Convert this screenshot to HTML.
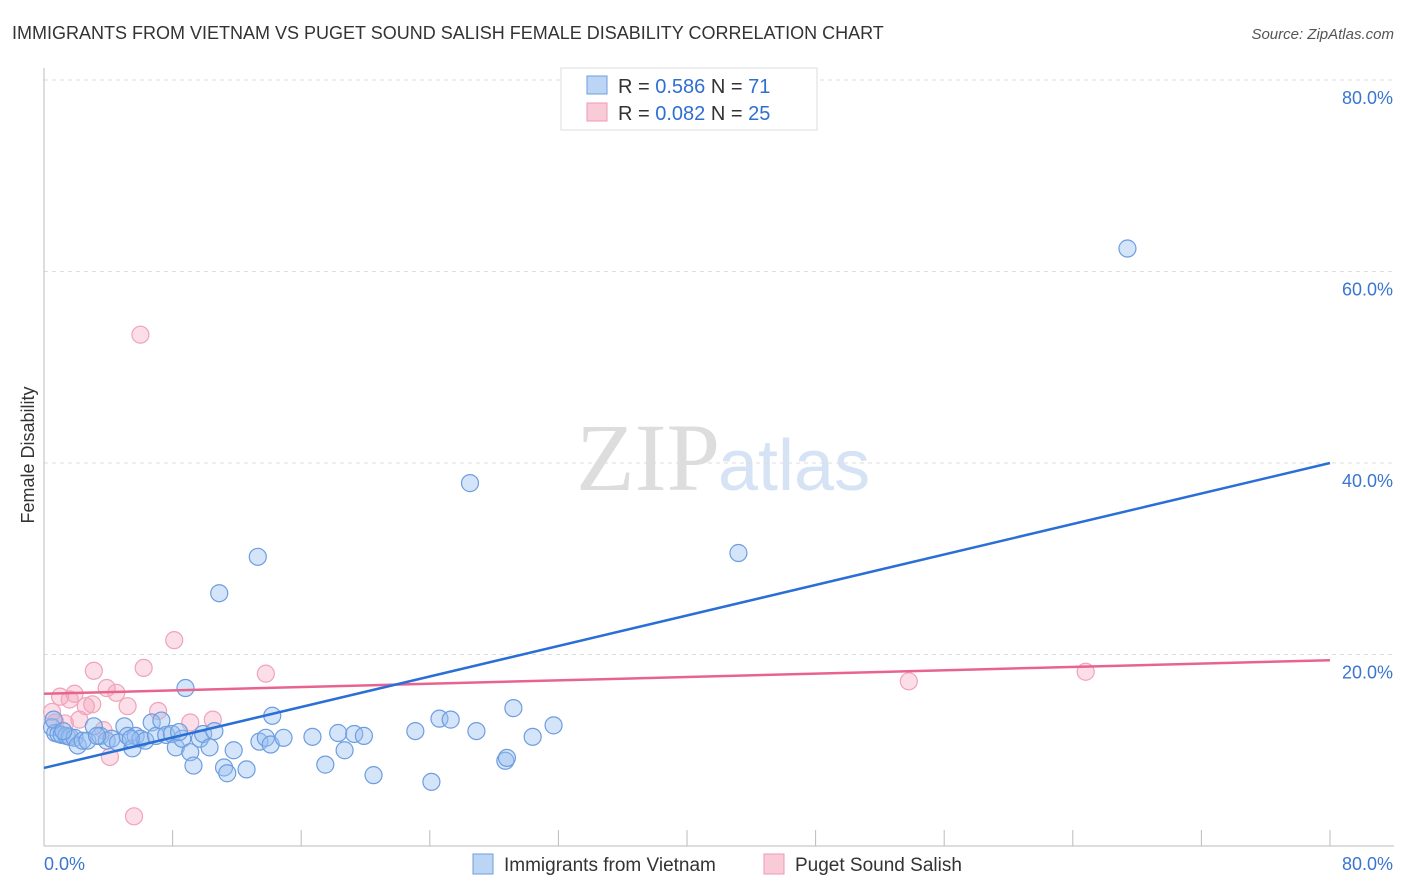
<!DOCTYPE html>
<html><head><meta charset="utf-8"><style>
body{margin:0;background:#fff;font-family:"Liberation Sans",sans-serif}
#wrap{position:relative;width:1406px;height:892px;overflow:hidden}
</style></head><body>
<div id="wrap">
<svg id="svg" width="1406" height="892">
<text x="12" y="39" font-size="18" fill="#333">IMMIGRANTS FROM VIETNAM VS PUGET SOUND SALISH FEMALE DISABILITY CORRELATION CHART</text>
<text x="1394" y="39" font-size="15" fill="#555" font-style="italic" text-anchor="end">Source: ZipAtlas.com</text>
<text x="34" y="455" font-size="18" fill="#333" transform="rotate(-90 34 455)" text-anchor="middle">Female Disability</text>
<text x="720" y="490" font-size="96" fill="#ddd" font-family="Liberation Serif" text-anchor="end">ZIP</text>
<text x="718" y="490" font-size="72" fill="#d5e3f5">atlas</text>
<g id="grid"></g><g id="pts"></g><g id="lines"></g>
<g>
<rect x="561" y="68" width="256" height="62" fill="#fff" stroke="#ddd"/>
<rect x="587" y="76" width="20" height="18" fill="#bcd5f5" stroke="#6d9de0"/>
<rect x="587" y="103" width="20" height="18" fill="#f9cad8" stroke="#ee9ab4"/>
<text x="618" y="93" font-size="20" fill="#333">R = <tspan fill="#2f6fd0">0.586</tspan>   N = <tspan fill="#2f6fd0">71</tspan></text>
<text x="618" y="120" font-size="20" fill="#333">R = <tspan fill="#2f6fd0">0.082</tspan>   N = <tspan fill="#2f6fd0">25</tspan></text>
</g>
<g>
<rect x="473" y="854" width="20" height="20" fill="#bcd5f5" stroke="#6d9de0"/>
<text x="504" y="871" font-size="19" fill="#333">Immigrants from Vietnam</text>
<rect x="764" y="854" width="20" height="20" fill="#f9cad8" stroke="#ee9ab4"/>
<text x="795" y="871" font-size="19" fill="#333">Puget Sound Salish</text>
</g>
<text x="44" y="870" font-size="18" fill="#3a75d0">0.0%</text>
<text x="1393" y="870" font-size="18" fill="#3a75d0" text-anchor="end">80.0%</text>
</svg></div>
<script>
const yTicks=[20,40,60,80];
const yTickLabels=["20.0%","40.0%","60.0%","80.0%"];
const xTicks=[0,8,16,24,32,40,48,56,64,72,80];
const blueX=[0.5,0.7,0.9,1.1,1.4,1.6,1.9,2.1,2.4,2.7,3.1,3.5,3.9,4.2,4.6,5.0,5.2,5.5,5.7,6.0,6.3,6.7,6.97,7.3,7.6,7.96,8.2,8.6,8.8,9.1,9.3,9.7,9.9,10.3,10.6,10.9,11.2,11.4,11.8,12.6,13.3,13.4,13.8,14.1,14.2,14.9,16.7,17.5,18.3,18.7,19.3,19.9,20.5,23.1,24.1,24.6,25.3,26.5,26.9,28.7,28.8,29.2,30.4,31.7,43.2,67.4,0.6,1.2,3.3,5.4,8.4];
const blueY=[12.4,11.8,11.7,11.6,11.5,11.4,11.3,10.5,11.0,11.0,12.5,11.5,11.0,11.2,10.8,12.5,11.5,10.2,11.5,11.2,11.0,12.9,11.5,13.1,11.6,11.7,10.3,11.2,16.5,9.8,8.4,11.2,11.7,10.3,12.0,26.4,8.2,7.6,10.0,8.0,30.2,10.9,11.3,10.6,13.6,11.3,11.4,8.5,11.8,10.0,11.7,11.5,7.4,12.0,6.7,13.3,13.2,37.9,12.0,8.9,9.2,14.4,11.4,12.6,30.6,62.4,13.2,12.0,11.5,11.2,11.9];
const pinkX=[0.5,0.7,1.0,1.3,1.6,1.9,2.2,2.6,3.0,3.1,3.7,3.9,4.1,4.5,5.2,5.6,6.0,6.2,7.1,8.1,9.1,10.5,13.8,53.8,64.8];
const pinkY=[14.0,12.9,15.6,12.8,15.3,15.9,13.2,14.6,14.8,18.3,12.1,16.5,9.3,16.0,14.6,3.1,53.4,18.6,14.1,21.5,12.9,13.2,18.0,17.2,18.2];
const blueLine=[8.15,40.0];
const pinkLine=[15.9,19.4];
const X=v=>44+v*16.075, Y=v=>846-v*9.575;
const NS="http://www.w3.org/2000/svg";
function mk(t,a,p){const e=document.createElementNS(NS,t);for(const k in a)e.setAttribute(k,a[k]);p.appendChild(e);return e;}
const g=document.getElementById('grid');
yTicks.forEach((t,i)=>{
 const l=mk('line',{x1:44,x2:1394,y1:Y(t),y2:Y(t),stroke:'#ddd','stroke-dasharray':'4 4'},g);
 
 
 const tx=mk('text',{x:1393,y:Y(t)+24,'font-size':18,fill:'#3a75d0','text-anchor':'end'},g);
 tx.textContent=yTickLabels[i];
 
 
});
const ax=mk('line',{x1:44,x2:1394,y1:846,y2:846,stroke:'#bbb'},g);


const ay=mk('line',{x1:44,x2:44,y1:68,y2:846,stroke:'#bbb'},g);


xTicks.forEach(t=>{
 const l=mk('line',{x1:X(t),x2:X(t),y1:846,y2:830,stroke:'#bbb'},g);
 
 
});
const p=document.getElementById('pts');
pinkX.forEach((v,i)=>{
 const c=mk('circle',{cx:X(v),cy:Y(pinkY[i]),r:8.5,fill:'rgba(244,160,187,0.35)',stroke:'#f0a3bb','stroke-width':1.2},p);
 
 
});
blueX.forEach((v,i)=>{
 const c=mk('circle',{cx:X(v),cy:Y(blueY[i]),r:8.5,fill:'rgba(150,190,240,0.4)',stroke:'#6d9de0','stroke-width':1.2},p);
 
 
});
const L=document.getElementById('lines');
const pl=mk('line',{x1:X(0),y1:Y(pinkLine[0]),x2:X(80),y2:Y(pinkLine[1]),stroke:'#e8648f','stroke-width':2.5},L);


const bl=mk('line',{x1:X(0),y1:Y(blueLine[0]),x2:X(80),y2:Y(blueLine[1]),stroke:'#2a6fd6','stroke-width':2.5},L);


</script>
</body></html>
